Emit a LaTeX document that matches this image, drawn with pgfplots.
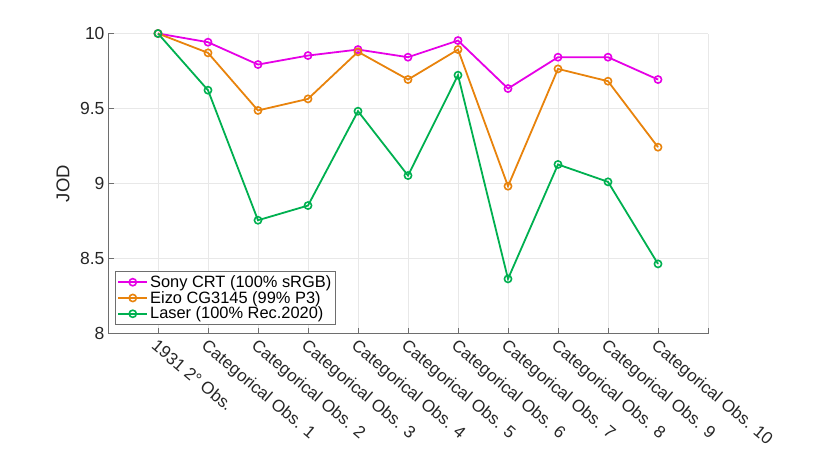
\documentclass[border=0pt]{standalone}
\usepackage{fontspec}
\setmainfont{Liberation Sans}
\usepackage{pgfplots}
\usepackage{pgfplotstable}
\pgfplotsset{compat=1.18}
\definecolor{cmag}{RGB}{230,0,230}
\definecolor{corg}{RGB}{232,131,12}
\definecolor{cgrn}{RGB}{0,176,80}
\definecolor{axgray}{RGB}{110,110,110}
\definecolor{gridgray}{RGB}{232,232,232}
\definecolor{txt}{RGB}{38,38,38}

\pgfplotstableread{
x sony eizo laser
0 10.00 10.00 10.00
1 9.942 9.871 9.622
2 9.793 9.487 8.755
3 9.853 9.564 8.853
4 9.893 9.878 9.482
5 9.842 9.693 9.053
6 9.953 9.893 9.722
7 9.633 8.982 8.364
8 9.842 9.764 9.127
9 9.842 9.682 9.011
10 9.693 9.242 8.464
}\datatable

\begin{document}
\begin{tikzpicture}
\begin{axis}[
  at={(0,0)}, anchor=south west,
  scale only axis, width=600bp, height=300bp,
  xmin=-1, xmax=11, ymin=8, ymax=10,
  axis x line*=bottom, axis y line*=left,
  axis line style={axgray, line width=0.7bp, -},
  xtick={-1,0,1,2,3,4,5,6,7,8,9,10,11},
  xticklabels={{},1931 2° Obs.,Categorical Obs. 1,Categorical Obs. 2,Categorical Obs. 3,Categorical Obs. 4,Categorical Obs. 5,Categorical Obs. 6,Categorical Obs. 7,Categorical Obs. 8,Categorical Obs. 9,Categorical Obs. 10,{}},
  ytick={8,8.5,9,9.5,10},
  yticklabels={8,8.5,9,9.5,10},
  tick align=inside,
  major tick length=6bp,
  tick style={axgray, line width=0.7bp},
  grid=major,
  major grid style={gridgray, line width=0.7bp},
  every tick label/.append style={font=\fontsize{17bp}{20bp}\selectfont, text=txt},
  yticklabel style={font=\fontsize{17.5bp}{20bp}\selectfont},
  xticklabel style={rotate=-40, anchor=north west},
  ylabel={JOD},
  ylabel style={at={(axis description cs:-0.075,0.5)}, anchor=center, font=\fontsize{18.5bp}{21bp}\selectfont, text=txt},
  clip=false,
  legend cell align=left,
  legend style={at={(axis description cs:0.0117,0.0283)}, anchor=south west,
    draw=axgray, fill=white, line width=0.7bp, inner xsep=2bp, inner ysep=3bp,
    font=\fontsize{16.4bp}{18bp}\selectfont, text=black,
    nodes={inner xsep=2bp, inner ysep=1.2bp}},
  legend image code/.code={
    \draw[mark repeat=2, mark phase=2] plot coordinates {(0bp,0bp) (14.5bp,0bp) (29bp,0bp)};
  },
  every axis plot/.append style={line width=1.8bp, mark=o, mark size=3.6bp, mark options={solid, line width=1.6bp}},
]
\addplot[cmag] table[x=x, y=sony] {\datatable};
\addlegendentry{Sony CRT (100\% sRGB)}
\addplot[corg] table[x=x, y=eizo] {\datatable};
\addlegendentry{Eizo CG3145 (99\% P3)}
\addplot[cgrn] table[x=x, y=laser] {\datatable};
\addlegendentry{Laser (100\% Rec.2020)}
\end{axis}
\path[use as bounding box] (-108bp,-123.5bp) rectangle (722bp,333.5bp);
\end{tikzpicture}
\end{document}
